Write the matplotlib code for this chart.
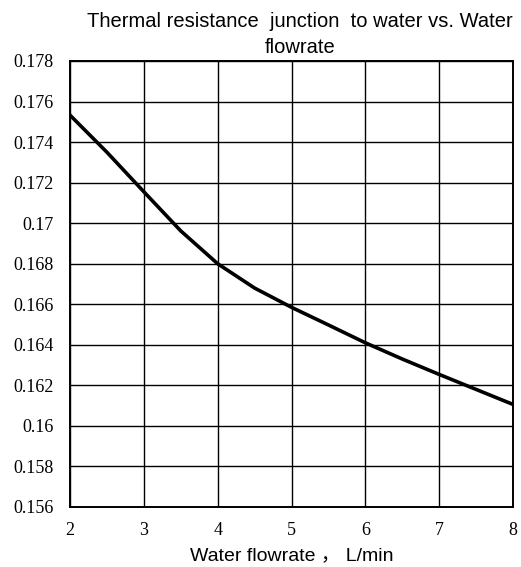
import numpy as np
import matplotlib
matplotlib.use('Agg')
import matplotlib.pyplot as plt

flow = [2, 2.5, 3, 3.5, 4, 4.5, 5, 5.5, 6, 6.5, 7, 7.5, 8]
resistance = [0.17533, 0.17350, 0.17155, 0.16962, 0.16800, 0.16680, 0.16585,
              0.16498, 0.16410, 0.16330, 0.16254, 0.16180, 0.16106]

x_ticks = [2, 3, 4, 5, 6, 7, 8]
y_ticks = [0.156, 0.158, 0.160, 0.162, 0.164, 0.166, 0.168, 0.170, 0.172, 0.174, 0.176, 0.178]
y_labels = ['0.156', '0.158', '0.16', '0.162', '0.164', '0.166', '0.168',
            '0.17', '0.172', '0.174', '0.176', '0.178']

fig = plt.figure(figsize=(5.21, 5.67), dpi=100)
ax = fig.add_axes([70 / 521, 60 / 567, 443 / 521, 446 / 567])

ax.plot(flow, resistance, color='black', linewidth=2.6)

ax.set_xlim(2, 8)
ax.set_ylim(0.156, 0.178)
ax.set_xticks(x_ticks)
ax.set_xticklabels([str(v) for v in x_ticks], family='Liberation Serif', fontsize=13)
ax.set_yticks(y_ticks)
ax.set_yticklabels(y_labels, family='Liberation Serif', fontsize=13)
ax.tick_params(axis='y', length=0, pad=12)
ax.tick_params(axis='x', length=0, pad=11)
ax.grid(True, color='black', linewidth=1.0)
for s in ax.spines.values():
    s.set_linewidth(1.4)

ax.set_title('Thermal resistance  junction  to water vs. Water\nflowrate',
             family=['Liberation Sans', 'DejaVu Sans'], fontsize=14.5, pad=6,
             linespacing=1.45, x=0.519)
ax.set_xlabel('Water flowrate \uff0c L/min', family=['Liberation Sans', 'Noto Sans CJK SC'],
              fontsize=14, labelpad=6)

fig.savefig('out.png', dpi=100, facecolor='white')
